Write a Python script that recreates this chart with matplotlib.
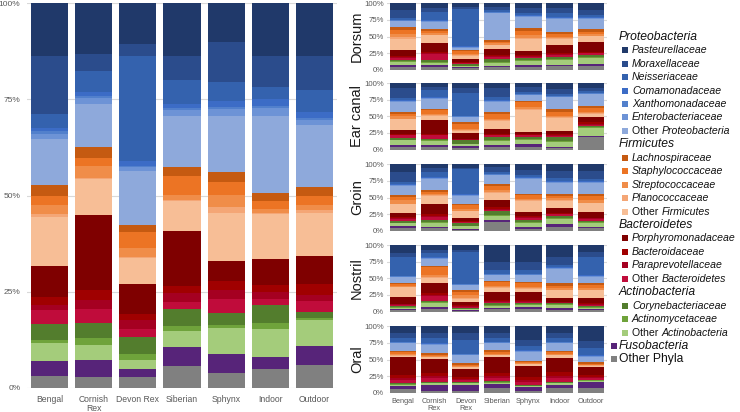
import matplotlib
matplotlib.use('Agg')
import matplotlib.pyplot as plt
from matplotlib.patches import Rectangle
import numpy as np

plt.rcParams['font.family'] = ['Liberation Sans', 'DejaVu Sans']

# ---------------- data ----------------
breeds = ['Bengal', 'Cornish\nRex', 'Devon Rex', 'Siberian', 'Sphynx', 'Indoor', 'Outdoor']
small_breeds = ['Bengal', 'Cornish\nRex', 'Devon\nRex', 'Siberian', 'Sphynx', 'Indoor', 'Outdoor']
sites = ['Dorsum', 'Ear canal', 'Groin', 'Nostril', 'Oral']

taxa = ['Pasteurellaceae', 'Moraxellaceae', 'Neisseriaceae', 'Comamonadaceae',
        'Xanthomonadaceae', 'Enterobacteriaceae', 'Other Proteobacteria',
        'Lachnospiraceae', 'Staphylococcaceae', 'Streptococcaceae', 'Planococcaceae',
        'Other Firmicutes', 'Porphyromonadaceae', 'Bacteroidaceae', 'Paraprevotellaceae',
        'Other Bacteroidetes', 'Corynebacteriaceae', 'Actinomycetaceae',
        'Other Actinobacteria', 'Fusobacteria', 'Other Phyla']

colors = ['#20396A', '#2B4C8C', '#3462AE', '#3C6CC6', '#5280CC', '#6D93D6', '#8EA9DB',
          '#C55A11', '#EC7424', '#F08D49', '#F4A676', '#F7BE96',
          '#7F0000', '#A00000', '#A50021', '#C00C3B',
          '#537D2D', '#6FA33B', '#A4CC7B', '#572479', '#808080']

# values per bar, listed in legend order (top of the stack first), percent
overall = [
    [13.7, 15.0, 3.6, 1.0, 0.6, 1.4, 11.8, 2.9, 2.4, 2.3, 0.9, 12.8, 7.8, 2.3, 1.3, 3.6, 4.0, 1.0, 4.5, 4.0, 3.0],
    [13.2, 4.6, 5.3, 1.2, 0.5, 1.5, 11.2, 2.9, 2.0, 3.2, 0.3, 9.5, 19.4, 2.6, 2.4, 3.6, 4.0, 1.8, 4.0, 4.5, 2.7],
    [10.6, 3.3, 27.3, 1.3, 0.4, 0.9, 14.2, 1.9, 4.2, 2.2, 0.3, 6.8, 7.9, 1.6, 2.2, 2.2, 4.3, 1.7, 2.4, 1.9, 2.9],
    [13.7, 6.4, 6.3, 1.1, 0.5, 1.5, 13.4, 2.3, 4.9, 1.3, 0.3, 8.0, 14.3, 2.0, 2.2, 1.8, 4.5, 1.4, 4.2, 5.0, 5.6],
    [10.2, 10.4, 4.9, 1.6, 0.5, 1.9, 14.7, 2.4, 3.4, 3.3, 1.4, 12.7, 5.2, 2.4, 2.4, 3.5, 3.2, 0.9, 6.8, 4.8, 3.9],
    [13.9, 8.1, 3.2, 1.7, 0.5, 2.2, 20.1, 2.3, 2.1, 0.9, 0.2, 11.8, 6.9, 2.0, 1.6, 1.8, 4.6, 1.6, 7.4, 3.1, 4.9],
    [13.7, 9.0, 5.9, 1.4, 0.5, 1.4, 16.3, 2.3, 2.3, 1.3, 0.8, 11.4, 7.2, 2.8, 1.8, 2.8, 1.5, 0.5, 6.9, 5.0, 5.9],
]

dorsum = [
    [10, 12, 2, 1, 0.5, 1, 9, 4, 6, 5, 3, 16, 8.5, 2, 1.5, 2, 2.5, 1.5, 4, 3, 4],
    [7.5, 5, 13, 1, 0.5, 1, 11.5, 2.5, 3.5, 2.5, 0.5, 12, 12.5, 2, 1.5, 9, 3.5, 1.5, 3.5, 3, 3.5],
    [5, 3.5, 57, 1, 0.5, 1, 2.5, 2.5, 4, 2, 0.5, 5, 4.5, 1, 0.5, 1.5, 2.5, 0.5, 2.5, 1.5, 2],
    [5, 5, 2.5, 1, 0.5, 1, 40, 3.5, 2.5, 2.5, 0.5, 6, 8.5, 2, 1.5, 3, 3.5, 1.5, 4.5, 2.5, 4],
    [7.5, 7.5, 3, 1, 0.5, 1, 17.5, 3.5, 6.5, 5, 1, 17.5, 6.5, 1.5, 1, 2.5, 2.5, 2, 6.5, 2.5, 4],
    [7.5, 7.5, 5, 1.5, 0.5, 1, 20.5, 3, 3.5, 2.5, 0.5, 9.5, 12.5, 1.5, 1, 2.5, 3.5, 1.5, 7.5, 2.5, 5],
    [10, 7.5, 3, 1, 0.5, 1, 16, 3.5, 4, 2.5, 0.5, 8, 15, 1.5, 1, 2.5, 3.5, 1.5, 8.5, 3, 6],
]
ear_canal = [
    [8, 15, 2.5, 1, 0.5, 1, 15, 3.5, 3, 3.5, 1, 16.5, 5, 1.5, 1, 4, 2.5, 1, 7.5, 2.5, 3.5],
    [5.5, 5, 10.5, 1, 0.5, 1, 14.5, 2.5, 5, 2.5, 0.5, 7, 20, 1.5, 1, 5, 2.5, 1.5, 6, 2.5, 3.5],
    [8, 7.5, 33, 1, 0.5, 1, 7, 2.5, 7.5, 2.5, 0.5, 3, 9, 1, 0.5, 1, 5, 1, 3, 2, 2.5],
    [8, 12.5, 5.5, 1, 0.5, 1, 15, 3.5, 6.5, 2.5, 1, 12.5, 6.5, 1.5, 1, 2.5, 5, 1.5, 6, 2, 4],
    [5.5, 7.5, 3, 1, 0.5, 1, 8, 2.5, 6.5, 3.5, 1.5, 32.5, 2.5, 1.5, 1, 2.5, 2.5, 1.5, 7, 4, 3.5],
    [8.5, 7.5, 3, 1, 0.5, 1, 17, 5, 5, 2.5, 1, 19, 5, 1.5, 1, 2.5, 5, 2.5, 6.5, 2, 2],
    [7, 5, 2.5, 1, 0.5, 0.5, 17, 3.5, 5.5, 2.5, 0.5, 5.5, 7.5, 2, 1.5, 1.5, 2.5, 1, 11.5, 2.5, 18],
]
groin = [
    [11, 15, 3, 1, 0.5, 1, 14.5, 2.5, 5, 5, 1, 12.5, 6.5, 1.5, 1, 2.5, 3, 1, 4.5, 3, 3.5],
    [6, 5, 8, 1, 0.5, 1, 17, 2.5, 2.5, 2.5, 0.5, 13, 14, 3, 2, 4, 2.5, 1.5, 7, 1.5, 3.5],
    [6, 1.5, 36.5, 1, 0.5, 1, 12, 1.5, 6, 2.5, 0.5, 10.5, 4, 1.5, 1, 1, 4, 1, 4, 1, 1.5],
    [4.5, 6.5, 3, 1, 0.5, 1, 12, 4, 5, 3.5, 1, 10.5, 11, 2.5, 1.5, 2, 5, 1.5, 6.5, 3.5, 12.5],
    [8.5, 7.5, 3, 1, 0.5, 1, 22, 2.5, 5, 2.5, 1, 16.5, 5, 2, 1.5, 2.5, 3, 1.5, 7, 2, 3],
    [10, 10, 5.5, 1, 0.5, 1, 17, 2.5, 3.5, 2.5, 1, 10.5, 8.5, 1, 0.5, 2.5, 3.5, 1.5, 7.5, 4, 6],
    [10, 12.5, 3, 1, 0.5, 1, 16, 3.5, 6.5, 3.5, 1, 12.5, 9, 1.5, 1, 2.5, 2.5, 1.5, 5, 2, 4],
]
nostril = [
    [12.5, 5, 28, 1, 0.5, 1, 8.5, 1.5, 2.5, 2, 0.5, 14.5, 10, 1, 1, 1, 2, 1, 1.5, 1.5, 2.5],
    [7.5, 4, 6.5, 1, 0.5, 1, 10.5, 1.5, 12.5, 3.5, 0.5, 7.5, 16, 2.5, 1.5, 7, 2.5, 1.5, 6, 2.5, 4],
    [7.5, 2.5, 48, 1, 0.5, 1, 7, 2.5, 5, 5, 0.5, 4.5, 5, 1.5, 1, 1.5, 2, 0.5, 1, 1.5, 1],
    [25, 12.5, 5.5, 1, 0.5, 1, 8, 2.5, 5, 2.5, 0.5, 6, 12.5, 1.5, 1, 2.5, 2.5, 1, 3, 2.5, 3.5],
    [25, 12.5, 5.5, 1, 0.5, 1, 9.5, 2.5, 5, 2.5, 0.5, 4.5, 12.5, 1.5, 1, 2.5, 1.5, 1, 2.5, 4, 3.5],
    [17.5, 12.5, 3, 1, 0.5, 1, 22, 3.5, 4, 2.5, 0.5, 11, 6, 1, 0.5, 1, 1.5, 1, 5, 2.5, 2.5],
    [10, 7.5, 28, 1, 0.5, 1, 8.5, 3.5, 5, 2.5, 0.5, 12, 7.5, 1.5, 1, 1.5, 1.5, 1, 2, 1.5, 2.5],
]
oral = [
    [10, 7.5, 5.5, 1, 0.5, 1, 12, 1.5, 2, 1.5, 1, 2.5, 26.5, 4.5, 3, 5, 1.5, 1, 1.5, 5, 5],
    [10, 7.5, 8, 1, 0.5, 1, 12, 2.5, 1.5, 1, 0.5, 3.5, 21, 4.5, 3, 5, 1.5, 1, 2.5, 8.5, 3],
    [10, 10, 20.5, 1, 0.5, 1, 12, 2.5, 1.5, 1, 0.5, 3.5, 11, 3, 2, 2.5, 1.5, 1, 2.5, 8.5, 3],
    [10, 7.5, 5.5, 1, 0.5, 1, 10.5, 3, 2, 1.5, 0.5, 3, 24, 4.5, 3, 3.5, 2, 1, 2, 6.5, 6.5],
    [20, 10, 5.5, 1, 0.5, 1, 13, 2.5, 1.5, 1, 0.5, 2, 16.5, 4.5, 3, 5, 1, 1, 1.5, 5, 3],
    [10, 7.5, 5.5, 1, 0.5, 1, 11, 2, 2, 2, 0.5, 3.5, 21, 6, 4, 5, 1.5, 1, 2.5, 5, 6.5],
    [22.5, 10, 10.5, 1, 0.5, 1, 8, 2.5, 1.5, 1, 0.5, 2.5, 11, 3, 2, 2.5, 1.5, 1, 1, 10, 6.5],
]
site_data = [dorsum, ear_canal, groin, nostril, oral]

# ---------------- layout ----------------
W, H = 740, 412
fig = plt.figure(figsize=(W / 100, H / 100), dpi=100)
TICK_COLOR = '#595959'
GRID_COLOR = '#D9D9D9'


def px_axes(left, top, right, bottom):
    return fig.add_axes([left / W, 1 - bottom / H, (right - left) / W, (bottom - top) / H])


def stacked(ax, data, labels, width, tick_fs, label_fs, ypad, xpad):
    arr = np.array(data, dtype=float)
    arr = arr / arr.sum(axis=1, keepdims=True) * 100
    x = np.arange(arr.shape[0])
    bottom = np.zeros(arr.shape[0])
    for k in range(arr.shape[1] - 1, -1, -1):
        ax.bar(x, arr[:, k], width, bottom=bottom, color=colors[k], linewidth=0, zorder=2)
        bottom += arr[:, k]
    ax.set_xlim(-0.5, len(x) - 0.5)
    ax.set_ylim(0, 100)
    ax.set_yticks([0, 25, 50, 75, 100])
    ax.set_yticklabels(['0%', '25%', '50%', '75%', '100%'])
    ax.yaxis.grid(True, color=GRID_COLOR, linewidth=0.8, zorder=0)
    ax.set_axisbelow(True)
    for s in ax.spines.values():
        s.set_visible(False)
    ax.set_xticks(x)
    ax.set_xticklabels(labels, linespacing=1.0)
    ax.tick_params(axis='both', length=0, colors=TICK_COLOR)
    ax.tick_params(axis='y', labelsize=tick_fs, pad=ypad)
    ax.tick_params(axis='x', labelsize=label_fs, pad=xpad)


main_ax = px_axes(27.4, 3.3, 336.6, 387.7)
stacked(main_ax, overall, breeds, 0.84, 6, 6.2, 5, 5)

tops = [3.3, 83.0, 164.3, 245.0, 326.3]
ph = 66.5
for i, (site, data) in enumerate(zip(sites, site_data)):
    ax = px_axes(387.3, tops[i], 606.7, tops[i] + ph)
    stacked(ax, data, small_breeds, 0.85, 5.6, 5.3, 2.5, 4)
    if i < len(sites) - 1:
        ax.set_xticklabels([])
    fig.text(357 / W, 1 - (tops[i] + ph / 2) / H, site, rotation=90, ha='center', va='center',
             fontsize=10.5, color='#1a1a1a')

# ---------------- legend ----------------
lax = fig.add_axes([0, 0, 1, 1])
lax.set_xlim(0, W)
lax.set_ylim(H, 0)
lax.axis('off')
TXT = '#111111'
ITEM_FS = 7.6
HEAD_FS = 8.7
groups = [('Proteobacteria', range(0, 7)), ('Firmicutes', range(7, 12)),
          ('Bacteroidetes', range(12, 16)), ('Actinobacteria', range(16, 19))]
y0, dy = 36.7, 13.45
row = 0
for head, idxs in groups:
    lax.text(619, y0 + row * dy, head, style='italic', fontsize=HEAD_FS, va='center', ha='left', color=TXT)
    row += 1
    for k in idxs:
        y = y0 + row * dy
        lax.add_patch(Rectangle((622, y - 3), 6, 6, facecolor=colors[k], linewidth=0))
        name = taxa[k]
        if name.startswith('Other '):
            t = lax.text(632, y, 'Other ', fontsize=ITEM_FS, va='center', ha='left', color=TXT)
            lax.annotate(name[6:], xy=(1, 0.5), xycoords=t, va='center', ha='left',
                         style='italic', fontsize=ITEM_FS, color=TXT)
        else:
            lax.text(632, y, name, style='italic', fontsize=ITEM_FS, va='center', ha='left', color=TXT)
        row += 1
for k, st in ((19, 'italic'), (20, 'normal')):
    y = y0 + row * dy
    lax.add_patch(Rectangle((611, y - 3), 6, 6, facecolor=colors[k], linewidth=0))
    lax.text(619, y, taxa[k], style=st, fontsize=HEAD_FS, va='center', ha='left', color=TXT)
    row += 1

fig.savefig('out.png', dpi=100)
